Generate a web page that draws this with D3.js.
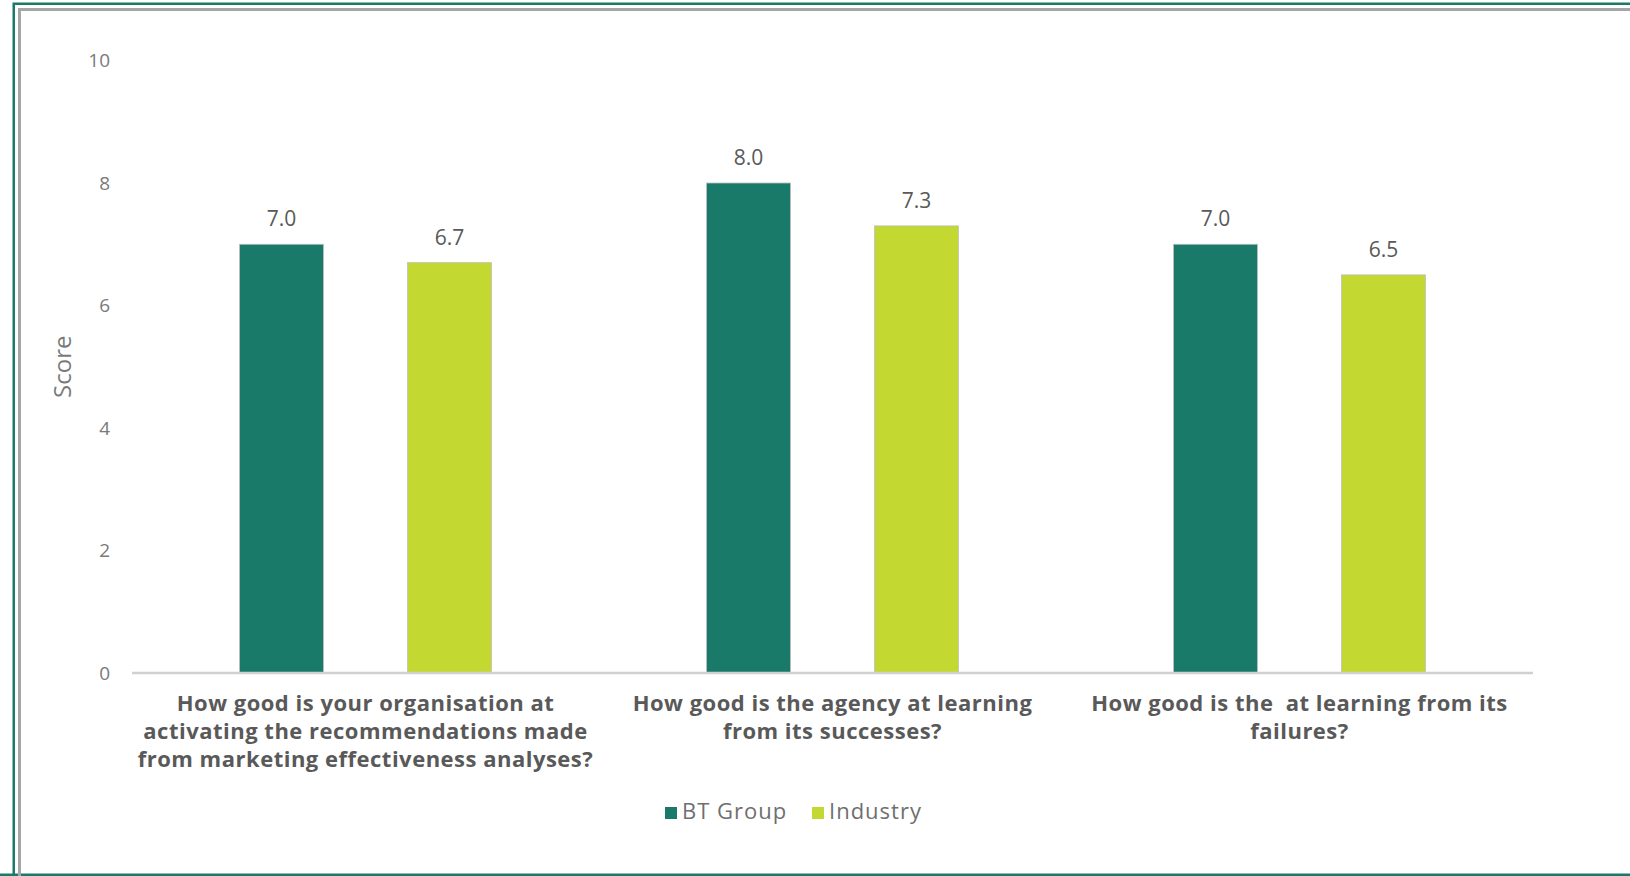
<!DOCTYPE html>
<html>
<head>
<meta charset="utf-8">
<script src="https://cdn.jsdelivr.net/npm/d3@7"></script>
<style>
  html, body { margin: 0; padding: 0; background: #fff; }
  svg { display: block; font-family: "Open Sans", "Lato", sans-serif; }
</style>
</head>
<body>
<svg id="chart" width="1630" height="876"></svg>
<script>
// Survey questions (each label split into its display lines)
const categories = [
  ["How good is your organisation at", "activating the recommendations made", "from marketing effectiveness analyses?"],
  ["How good is the agency at learning", "from its successes?"],
  ["How good is the  at learning from its", "failures?"]
];
const seriesNames = ["BT Group", "Industry"];
const btGroup = [7.0, 8.0, 7.0];
const industry = [6.7, 7.3, 6.5];
const yTicks = [0, 2, 4, 6, 8, 10];
const yTitle = "Score";

const colors = { "BT Group": "#1a7a69", "Industry": "#c3d932" };

const svg = d3.select("#chart");

// Frame: outer green rule with a grey rule inside it
svg.append("path")
  .attr("d", "M13.75,876 V3.75 H1630")
  .attr("fill", "none").attr("stroke", "#1a7a69").attr("stroke-width", 2.5);
svg.append("line")
  .attr("x1", 0).attr("x2", 1630).attr("y1", 874.75).attr("y2", 874.75)
  .attr("stroke", "#1a7a69").attr("stroke-width", 2.5);
svg.append("path")
  .attr("d", "M19.5,876 V9.5 H1630")
  .attr("fill", "none").attr("stroke", "#a6a6a6").attr("stroke-width", 3);

const plot = { left: 132, right: 1533, top: 60.5, bottom: 673 };

const keys = categories.map((c, i) => i);
const x0 = d3.scaleBand().domain(keys).range([plot.left, plot.right]).padding(0);
const x1 = d3.scaleBand().domain(seriesNames)
  .range([0, x0.bandwidth()]).paddingInner(0.5).paddingOuter(0.64);
const y = d3.scaleLinear().domain([0, 10]).range([plot.bottom, plot.top]);

const rows = keys.map(i => ({ i, values: [
  { key: "BT Group", v: btGroup[i] },
  { key: "Industry", v: industry[i] }
]}));

// Y axis tick labels (no axis line, no tick marks)
const yAxis = svg.append("g")
  .attr("transform", `translate(${plot.left},0)`)
  .call(d3.axisLeft(y).tickValues(yTicks).tickSize(0).tickPadding(22).tickFormat(d3.format("d")));
yAxis.select(".domain").remove();
yAxis.selectAll("text")
  .attr("fill", "#7a7a7a").style("font-size", "19px").style("font-family", "'Open Sans', sans-serif");

// Y title
svg.append("text")
  .attr("transform", `translate(71,${(plot.top + plot.bottom) / 2}) rotate(-90)`)
  .attr("text-anchor", "middle")
  .attr("fill", "#7a7a7a").style("font-size", "24px")
  .text(yTitle);

// Bars
const groups = svg.append("g").selectAll("g").data(rows).join("g")
  .attr("transform", d => `translate(${x0(d.i)},0)`);

groups.selectAll("rect").data(d => d.values).join("rect")
  .attr("x", d => x1(d.key))
  .attr("width", x1.bandwidth())
  .attr("y", d => y(d.v))
  .attr("height", d => y(0) - y(d.v))
  .attr("fill", d => colors[d.key])
  .attr("stroke", "#bfbfbf").attr("stroke-width", 0.8);

// Value labels
groups.selectAll("text.val").data(d => d.values).join("text")
  .attr("class", "val")
  .attr("x", d => x1(d.key) + x1.bandwidth() / 2)
  .attr("y", d => y(d.v) - 18)
  .attr("text-anchor", "middle")
  .attr("fill", "#595959").style("font-size", "21px")
  .text(d => d3.format(".1f")(d.v));

// Baseline
svg.append("line")
  .attr("x1", plot.left).attr("x2", plot.right)
  .attr("y1", y(0)).attr("y2", y(0))
  .attr("stroke", "#d0d0d0").attr("stroke-width", 2.5);

// Category labels
const catLabels = svg.append("g").selectAll("text").data(keys).join("text")
  .attr("x", i => x0(i) + x0.bandwidth() / 2)
  .attr("y", 711)
  .attr("text-anchor", "middle")
  .attr("fill", "#595959")
  .style("font-size", "22px").style("font-weight", "bold")
  .style("letter-spacing", "0.5px")
  .style("white-space", "pre");
catLabels.selectAll("tspan").data(i => categories[i].map(line => ({ line, i }))).join("tspan")
  .attr("x", d => x0(d.i) + x0.bandwidth() / 2)
  .attr("dy", (d, j) => j === 0 ? 0 : 28)
  .text(d => d.line);

// Legend
const legend = svg.append("g");
const legendItems = [
  { key: "BT Group", x: 665 },
  { key: "Industry", x: 812 }
];
const li = legend.selectAll("g").data(legendItems).join("g")
  .attr("transform", d => `translate(${d.x},807)`);
li.append("rect").attr("width", 12).attr("height", 12)
  .attr("fill", d => colors[d.key]);
li.append("text").attr("x", 17).attr("y", 12)
  .attr("fill", "#6f6f6f").style("font-size", "22px")
  .style("letter-spacing", "1px")
  .text(d => d.key);
</script>
</body>
</html>
